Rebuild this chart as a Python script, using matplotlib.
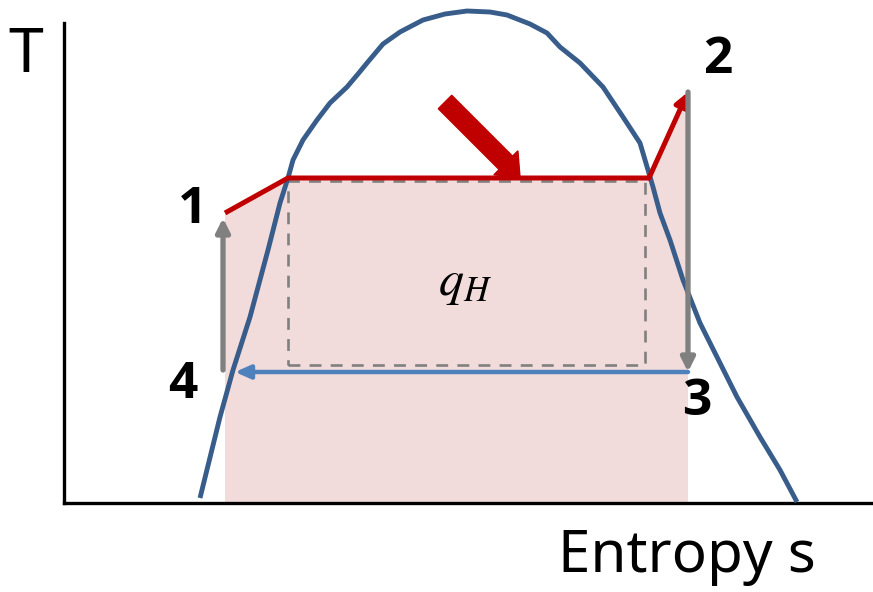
import numpy as np
import matplotlib
matplotlib.use('Agg')
import matplotlib.pyplot as plt
from matplotlib.patches import Polygon, Rectangle

# saturation dome (entropy s, temperature T)
dome_s = [1.36, 1.56, 1.69, 1.86, 2.04, 2.16, 2.24, 2.29, 2.39, 2.53, 2.66, 2.83,
          2.94, 3.03, 3.19, 3.36, 3.59, 3.81, 4.03, 4.26, 4.43, 4.66, 4.83, 4.96,
          5.16, 5.39, 5.59, 5.76, 5.84, 5.89, 5.96, 6.06, 6.19, 6.36, 6.53, 6.73,
          6.96, 7.16, 7.33]
dome_T = [0.05, 0.86, 1.33, 1.86, 2.53, 3.00, 3.25, 3.43, 3.63, 3.83, 4.00, 4.16,
          4.29, 4.40, 4.59, 4.71, 4.83, 4.89, 4.92, 4.91, 4.88, 4.79, 4.70, 4.56,
          4.40, 4.16, 3.86, 3.60, 3.33, 3.16, 2.90, 2.63, 2.23, 1.80, 1.46, 1.06,
          0.66, 0.33, 0.01]

# cycle states 1 .. 4 plus the saturation points on the top line
state_s = {'1': 1.61, 'f': 2.24, 'g': 5.85, '2': 6.24, '3': 6.24, '4': 1.61}
state_T = {'1': 2.90, 'f': 3.25, 'g': 3.25, '2': 4.11, '3': 1.31, '4': 1.31}

# equivalent rectangle (dashed) for q_H
rect_s = [2.24, 5.81]
rect_T = [1.38, 3.22]

pink = '#F2DBDB'
red = '#C00000'
gray = '#808080'
dome_blue = '#385D8A'
arrow_blue = '#4F81BD'

fig = plt.figure(figsize=(8.73, 5.92), dpi=100)
ax = fig.add_axes([64 / 873, 89 / 592, 809 / 873, 480 / 592])
ax.set_xlim(0, 8.09)
ax.set_ylim(0, 4.80)
for side in ['top', 'right']:
    ax.spines[side].set_visible(False)
for side in ['left', 'bottom']:
    ax.spines[side].set_linewidth(2.4)
ax.set_xticks([])
ax.set_yticks([])

# area under the heat rejection path
pts = [(state_s['1'], 0), (state_s['1'], state_T['1']), (state_s['f'], state_T['f']),
       (state_s['g'], state_T['g']), (state_s['2'], state_T['2']), (state_s['2'], 0)]
ax.add_patch(Polygon(pts, closed=True, facecolor=pink, edgecolor='none', zorder=1))

ax.add_patch(Rectangle((rect_s[0], rect_T[0]), rect_s[1] - rect_s[0], rect_T[1] - rect_T[0],
                       fill=False, edgecolor=gray, linestyle=(0, (4.5, 3.5)), linewidth=1.9,
                       zorder=2))

ax.plot(dome_s, dome_T, color=dome_blue, lw=3.5, clip_on=False, zorder=3,
        solid_capstyle='butt', solid_joinstyle='round')

# 1 -> f -> g (red)
ax.plot([state_s['1'], state_s['f'], state_s['g']],
        [state_T['1'], state_T['f'], state_T['g']], color=red, lw=3.6, zorder=4,
        solid_joinstyle='miter', solid_capstyle='butt')
# g -> 2 (red arrow)
ax.annotate('', xy=(state_s['2'], state_T['2']), xytext=(state_s['g'], state_T['g']),
            arrowprops=dict(arrowstyle='-|>,head_length=0.8,head_width=0.4', color=red,
                            lw=3.6, shrinkA=0, shrinkB=0), zorder=4)
# 2 -> 3 (gray)
ax.annotate('', xy=(state_s['3'], state_T['3']), xytext=(state_s['2'], state_T['2']),
            arrowprops=dict(arrowstyle='-|>,head_length=0.8,head_width=0.4', color=gray,
                            lw=3.8, shrinkA=0, shrinkB=0), zorder=4)
# 3 -> 4 (blue)
ax.annotate('', xy=(state_s['4'] + 0.10, state_T['4']), xytext=(state_s['3'], state_T['3']),
            arrowprops=dict(arrowstyle='-|>,head_length=0.9,head_width=0.4', color=arrow_blue,
                            lw=3.2, shrinkA=0, shrinkB=0), zorder=4)
# 4 -> 1 (gray)
ax.annotate('', xy=(state_s['1'] - 0.02, state_T['1'] - 0.05),
            xytext=(state_s['4'] - 0.02, state_T['4'] + 0.02),
            arrowprops=dict(arrowstyle='-|>,head_length=0.8,head_width=0.4', color=gray,
                            lw=3.8, shrinkA=0, shrinkB=0), zorder=4)

# heat rejection arrow
ax.arrow(3.81, 4.01, 0.75, -0.75, width=0.19, head_width=0.34, head_length=0.2,
         length_includes_head=True, color=red, zorder=5, clip_on=False)

lab = dict(fontsize=37, fontweight='bold', ha='center', va='center', family='Open Sans')
ax.text(1.29, 2.93, '1', **lab)
ax.text(6.54, 4.43, '2', clip_on=False, **lab)
ax.text(6.33, 1.01, '3', **lab)
ax.text(1.19, 1.18, '4', **lab)

plt.rcParams['mathtext.fontset'] = 'stix'
ax.text(4.01, 2.20, '$q_H$', fontsize=36, ha='center', va='center')

fig.text(26 / 873, 1 - 56 / 592, 'T', fontsize=45, ha='center', va='center', family='Noto Sans')
fig.text(687 / 873, 1 - 557 / 592, 'Entropy s', fontsize=42, ha='center', va='center',
         family='Noto Sans')

fig.savefig('out.png', dpi=100)
